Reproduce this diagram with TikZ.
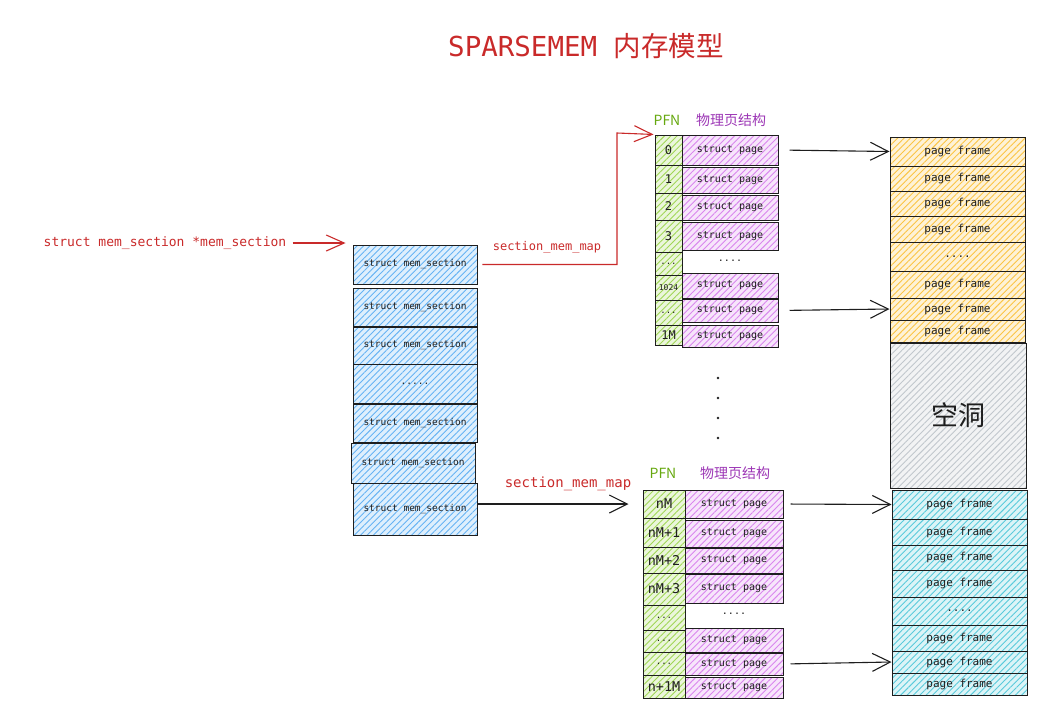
\documentclass[tikz,border=0pt]{standalone}
\usepackage{fontspec}
\setmonofont{DejaVu Sans Mono}
\newfontfamily\cjk{Noto Sans CJK SC}
\usetikzlibrary{patterns.meta,arrows.meta}
\definecolor{ink}{HTML}{1E1E1E}
\definecolor{cred}{HTML}{C92A2A}
\definecolor{cgreen}{HTML}{66A80F}
\definecolor{cpurple}{HTML}{9C36B5}
\definecolor{hblue}{HTML}{339AF0}
\definecolor{hgreen}{HTML}{82C91E}
\definecolor{hpurple}{HTML}{CC5DE8}
\definecolor{hyellow}{HTML}{FAB005}
\definecolor{hcyan}{HTML}{22B8CF}
\definecolor{hgray}{HTML}{ADB5BD}
\tikzset{
  cell/.style={draw=ink, line width=1pt, inner sep=0pt, text=ink},
  hatch/.style={preaction={fill=#1!16}, pattern={Lines[angle=45,distance=4.5pt,line width=0.9pt]}, pattern color=#1!75},
  secbox/.style={cell, hatch=hblue, minimum width=124pt, font=\ttfamily\fontsize{9.5}{10}\selectfont},
  pfnbox/.style={cell, hatch=hgreen, font=\ttfamily\fontsize{12}{12}\selectfont},
  spbox/.style={cell, hatch=hpurple, font=\ttfamily\fontsize{10}{10}\selectfont},
  pfbox/.style={cell, minimum width=135pt, font=\ttfamily\fontsize{11}{11}\selectfont},
  plain/.style={inner sep=0pt, text=ink, font=\ttfamily\fontsize{10}{10}\selectfont},
  lbl/.style={inner sep=0pt, font=\cjk\fontsize{14}{14}\selectfont},
  redlbl/.style={inner sep=0pt, text=cred, font=\ttfamily\fontsize{12}{12}\selectfont},
  arr/.style={line width=1.1pt, draw=ink, -{Straight Barb[length=18pt,width=18pt,line width=1.1pt]}},
  redarr/.style={line width=1.1pt, draw=cred, -{Straight Barb[length=18pt,width=16pt,line width=1.1pt]}},
  dot/.style={circle, fill=ink, inner sep=0pt, minimum size=2.6pt}
}
\begin{document}
\begin{tikzpicture}[x=1pt,y=-1pt]
\useasboundingbox (0,0) rectangle (1061,724);
% title
\node[inner sep=0pt, text=cred] (title) at (586,46) {\ttfamily\fontsize{27.5}{29}\selectfont SPARSEMEM\ \cjk 内存模型};
% left label
\node[redlbl, font=\ttfamily\fontsize{13}{13}\selectfont] (ptr) at (165,243) {struct mem\_section *mem\_section};
% mem_section column
\node[secbox, minimum height=39pt] (s1) at (415,264.5) {struct mem\_section};
\node[secbox, minimum height=38pt] (s2) at (415,307) {struct mem\_section};
\node[secbox, minimum height=37pt] (s3) at (415,345.5) {struct mem\_section};
\node[secbox, minimum height=39pt] (s4) at (415,383.5) {.....};
\node[secbox, minimum height=38pt] (s5) at (415,423) {struct mem\_section};
\node[secbox, minimum height=40pt] (s6) at (413,463) {struct mem\_section};
\node[secbox, minimum height=52pt] (s7) at (415,509) {struct mem\_section};
% top table headers
\node[lbl, text=cgreen] (pfnA) at (667,120) {PFN};
\node[lbl, text=cpurple] (phyA) at (731,120) {物理页结构};
% top PFN column
\begin{scope}[every node/.append style={minimum width=27pt}]
\node[pfnbox, minimum height=30pt] (p0) at (668.5,150) {0};
\node[pfnbox, minimum height=28pt] (p1) at (668.5,179) {1};
\node[pfnbox, minimum height=27pt] (p2) at (668.5,206.5) {2};
\node[pfnbox, minimum height=32pt] (p3) at (668.5,236) {3};
\node[pfnbox, minimum height=23pt, font=\ttfamily\fontsize{9}{9}\selectfont] (p4) at (668.5,263.5) {...};
\node[pfnbox, minimum height=25pt, font=\ttfamily\fontsize{8}{8}\selectfont] (p5) at (668.5,287.5) {1024};
\node[pfnbox, minimum height=25pt, font=\ttfamily\fontsize{9}{9}\selectfont] (p6) at (668.5,312.5) {...};
\node[pfnbox, minimum height=20pt] (p7) at (668.5,335) {1M};
\end{scope}
% top struct page column
\begin{scope}[every node/.append style={minimum width=96pt}]
\node[spbox, minimum height=30pt] (g0) at (730,150) {struct page};
\node[spbox, minimum height=26pt] (g1) at (730,180) {struct page};
\node[spbox, minimum height=25pt] (g2) at (730,207.5) {struct page};
\node[spbox, minimum height=28pt] (g3) at (730,236) {struct page};
\node[plain] (g4) at (730,261) {....};
\node[spbox, minimum height=25pt] (g5) at (730,285.5) {struct page};
\node[spbox, minimum height=23pt] (g6) at (730,310.5) {struct page};
\node[spbox, minimum height=22pt] (g7) at (730,336) {struct page};
\end{scope}
% top page frames
\node[pfbox, hatch=hyellow, minimum height=29pt] (f0) at (957.5,151.5) {page frame};
\node[pfbox, hatch=hyellow, minimum height=25pt] (f1) at (957.5,178.5) {page frame};
\node[pfbox, hatch=hyellow, minimum height=25pt] (f2) at (957.5,203.5) {page frame};
\node[pfbox, hatch=hyellow, minimum height=26pt] (f3) at (957.5,229) {page frame};
\node[pfbox, hatch=hyellow, minimum height=29pt] (f4) at (957.5,256.5) {....};
\node[pfbox, hatch=hyellow, minimum height=27pt] (f5) at (957.5,284.5) {page frame};
\node[pfbox, hatch=hyellow, minimum height=22pt] (f6) at (957.5,309) {page frame};
\node[pfbox, hatch=hyellow, minimum height=22pt] (f7) at (957.5,331) {page frame};
% hole
\node[cell, hatch=hgray, minimum width=136pt, minimum height=145pt, font=\cjk\fontsize{27}{28}\selectfont] (hole) at (958,415.5) {空洞};
% vertical dots
\node[dot] (d1) at (718,378) {};
\node[dot] (d2) at (718,398) {};
\node[dot] (d3) at (718,418) {};
\node[dot] (d4) at (718,438) {};
% bottom headers
\node[lbl, text=cgreen] (pfnB) at (663,473) {PFN};
\node[lbl, text=cpurple] (phyB) at (735,473) {物理页结构};
% bottom PFN column
\begin{scope}[every node/.append style={minimum width=42pt}]
\node[pfnbox, minimum height=28pt, font=\ttfamily\fontsize{13.5}{14}\selectfont] (q0) at (664,504) {nM};
\node[pfnbox, minimum height=29pt, font=\ttfamily\fontsize{13.5}{14}\selectfont] (q1) at (664,532.5) {nM+1};
\node[pfnbox, minimum height=26pt, font=\ttfamily\fontsize{13.5}{14}\selectfont] (q2) at (664,560) {nM+2};
\node[pfnbox, minimum height=32pt, font=\ttfamily\fontsize{13.5}{14}\selectfont] (q3) at (664,589) {nM+3};
\node[pfnbox, minimum height=25pt, font=\ttfamily\fontsize{9}{9}\selectfont] (q4) at (664,617.5) {...};
\node[pfnbox, minimum height=22pt, font=\ttfamily\fontsize{9}{9}\selectfont] (q5) at (664,641) {...};
\node[pfnbox, minimum height=23pt, font=\ttfamily\fontsize{9}{9}\selectfont] (q6) at (664,663.5) {...};
\node[pfnbox, minimum height=23pt, font=\ttfamily\fontsize{13.5}{14}\selectfont] (q7) at (664,686.5) {n+1M};
\end{scope}
% bottom struct page column
\begin{scope}[every node/.append style={minimum width=98pt}]
\node[spbox, minimum height=28pt] (h0) at (734,504) {struct page};
\node[spbox, minimum height=27pt] (h1) at (734,533.5) {struct page};
\node[spbox, minimum height=25pt] (h2) at (734,560.5) {struct page};
\node[spbox, minimum height=29pt] (h3) at (734,588.5) {struct page};
\node[plain] (h4) at (734,614) {....};
\node[spbox, minimum height=24pt] (h5) at (734,640) {struct page};
\node[spbox, minimum height=22pt] (h6) at (734,664) {struct page};
\node[spbox, minimum height=21pt] (h7) at (734,687.5) {struct page};
\end{scope}
% bottom page frames
\node[pfbox, hatch=hcyan, minimum height=29pt] (e0) at (959.5,504.5) {page frame};
\node[pfbox, hatch=hcyan, minimum height=26pt] (e1) at (959.5,532) {page frame};
\node[pfbox, hatch=hcyan, minimum height=25pt] (e2) at (959.5,557.5) {page frame};
\node[pfbox, hatch=hcyan, minimum height=27pt] (e3) at (959.5,583.5) {page frame};
\node[pfbox, hatch=hcyan, minimum height=28pt] (e4) at (959.5,611) {....};
\node[pfbox, hatch=hcyan, minimum height=26pt] (e5) at (959.5,638) {page frame};
\node[pfbox, hatch=hcyan, minimum height=22pt] (e6) at (959.5,662) {page frame};
\node[pfbox, hatch=hcyan, minimum height=22pt] (e7) at (959.5,684) {page frame};
% connectors
\draw[redarr, shorten <=6pt, shorten >=7pt] (ptr.east) -- (ptr.east -| s1.west);
\coordinate (bendtop) at (617,133);
\draw[redarr, shorten <=5pt, shorten >=1pt] (s1.east) -| (bendtop) -- (p0.north west);
\node[redlbl] (mapA) at (547,247) {section\_mem\_map};
\draw[arr, shorten >=14pt] (q0.west -| s7.east) -- (q0.west);
\node[redlbl, font=\ttfamily\fontsize{14}{14}\selectfont] (mapB) at (568,484) {section\_mem\_map};
\draw[arr, shorten <=11pt] (g0.east) -- (f0.west);
\draw[arr, shorten <=11pt] (g6.east) -- (f6.west);
\draw[arr, shorten <=7pt] (h0.east) -- (e0.west);
\draw[arr, shorten <=7pt] (h6.east) -- (e6.west);
\end{tikzpicture}
\end{document}
